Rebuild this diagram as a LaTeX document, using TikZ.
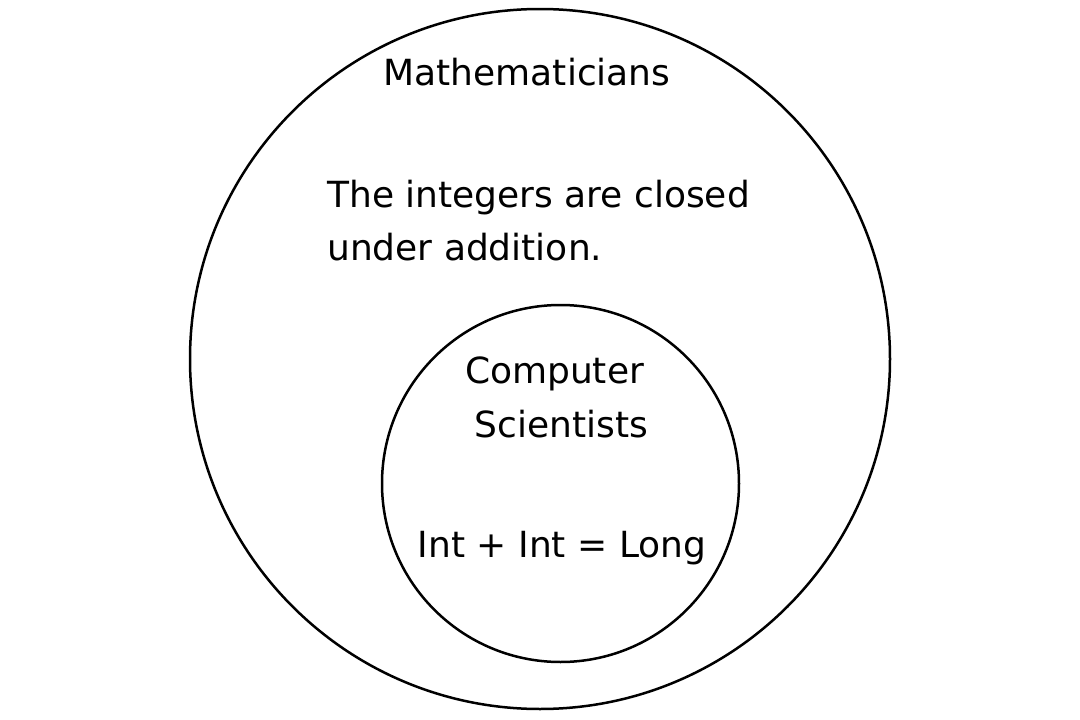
\documentclass[tikz,border=0pt]{standalone}
\usepackage{fontspec}
\setmainfont{DejaVu Sans}
\begin{document}
\begin{tikzpicture}[x=1pt,y=-1pt,
  ring/.style={draw=black,line width=2.5pt,circle,inner sep=0pt},
  lbl/.style={inner sep=0pt,font=\fontsize{36}{40}\selectfont}]
\useasboundingbox (0,0) rectangle (1080,720);
\node[ring,minimum size=700pt] (outer) at (540,359) {};
\node[ring,minimum size=357pt] (inner) at (560.5,483.5) {};
\node[lbl,anchor=base] (math) at (527,85) {Mathematicians};
\node[lbl,anchor=base west] (t1) at (327,207) {The integers are closed};
\node[lbl,anchor=base west] (t2) at (327,260) {under addition.};
\node[lbl,anchor=base] (cs1) at (554.5,383) {Computer};
\node[lbl,anchor=base] (cs2) at (561.5,437) {Scientists};
\node[lbl,anchor=base] (eq) at (562,557) {Int + Int = Long};
\end{tikzpicture}
\end{document}
